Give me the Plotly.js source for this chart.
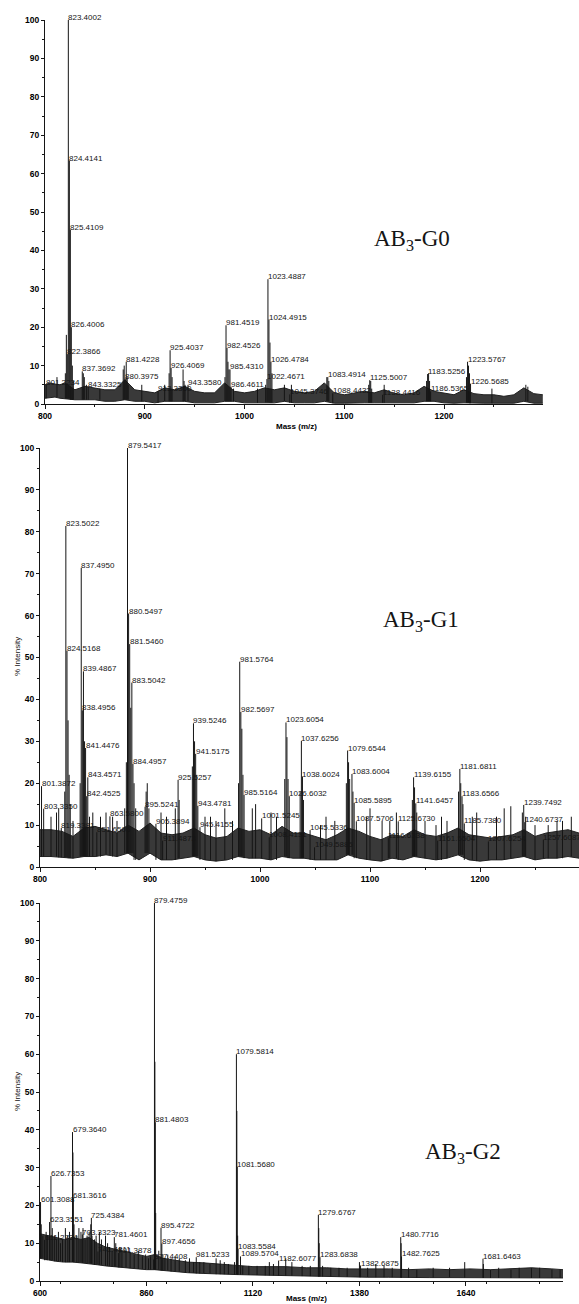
<!DOCTYPE html>
<html><head><meta charset="utf-8">
<script src="https://cdn.plot.ly/plotly-3.0.1.min.js"></script>
<style>html,body{margin:0;padding:0;background:#fff;} #chart{width:579px;height:1304px;}</style>
</head><body><div id="chart"></div>
<script>
// ---------- Panel 1 : AB3-G0 ----------
const G0_PEAK_MZ  = [823.4002, 824.4141, 825.4109, 826.4006, 822.3866, 801.2234, 837.3692, 843.3325, 881.4228, 880.3975, 913.3360, 925.4037, 926.4069, 943.3580, 981.4519, 982.4526, 985.4310, 986.4611, 1023.4887, 1024.4915, 1026.4784, 1022.4671, 1045.3746, 1083.4914, 1088.4432, 1125.5007, 1138.4416, 1183.5256, 1186.5365, 1223.5767, 1226.5685];
const G0_PEAK_INT = [100, 63.4, 45.4, 20, 13, 5, 8.5, 4.5, 11, 6.6, 3.3, 14, 9.4, 5, 20.5, 14.6, 9, 4.5, 32.5, 22, 11, 6.5, 2.5, 7, 2.8, 6.2, 2.4, 7.8, 3.3, 11, 5.3];
const G0_MINOR_MZ  = [812, 820.4, 821.4, 827.4, 828.4, 838.4, 839.4, 841.5, 855, 878.4, 879.4, 882.4, 883.4, 897, 920, 924.4, 927.4, 938.4, 939.4, 940.4, 980.4, 983.4, 984.4, 989, 1013, 1021.2, 1025.5, 1027.5, 1040, 1047, 1082.5, 1084.5, 1124.5, 1126.5, 1127.5, 1140, 1182.5, 1184.5, 1185.5, 1222.5, 1224.5, 1225.5, 1248, 1282, 1284];
const G0_MINOR_INT = [7, 8, 18, 10, 6, 8, 7, 5, 4, 9, 10, 7, 5, 5, 5, 8, 7, 9, 6, 5, 7, 11, 9, 4, 4, 5, 16, 8, 5, 5, 7, 6, 5, 6, 4, 5, 6, 8, 6, 7, 10, 8, 4, 5, 4.5];
const G0_NOISE_MZ = [800, 805, 810, 815, 820, 830, 840, 850, 860, 870, 880, 890, 900, 910, 920, 930, 940, 950, 960, 970, 980, 990, 1000, 1010, 1020, 1030, 1040, 1050, 1060, 1070, 1080, 1090, 1100, 1110, 1120, 1130, 1140, 1150, 1160, 1170, 1180, 1190, 1200, 1210, 1220, 1230, 1240, 1250, 1260, 1270, 1280, 1290, 1299];
const G0_NOISE_LO = [1.5, 1.6, 1.8, 1.5, 1.4, 1.1, 1.1, 1.1, 0.7, 0.7, 1.1, 0.7, 0.7, 0.3, 0.7, 0.7, 0.7, 0.3, 0.3, 0.3, 0.7, 0.7, 0.3, 0.3, 0.4, 0.3, 0.7, 0.3, 0.3, 0.3, 0.7, 0.2, 0.2, 0.3, 0.3, 0.3, 0.3, 0.4, 0.3, 0.3, 0.7, 0.7, 0.3, 0.2, 0.3, 0.2, 0.2, 0.2, 0.2, 0.2, 0.7, 0.2, 0.2];
const G0_NOISE_HI = [5, 5.5, 5.2, 5, 5.5, 3.7, 4.6, 4.2, 3.7, 3.7, 6.3, 3.7, 3.3, 2.9, 4.2, 3.7, 4.6, 3.3, 2.9, 2.9, 5.5, 3.3, 2.9, 3.3, 4.2, 3.7, 4.2, 3.3, 2.9, 3.3, 5.5, 2.9, 2.4, 2.9, 3.3, 2.9, 3.7, 2.8, 2.4, 2.9, 4.6, 3.3, 2.9, 2.4, 3.7, 2.7, 2.4, 2.4, 2.0, 2.4, 4.2, 2.7, 2.4];

// ---------- Panel 2 : AB3-G1 ----------
const G1_PEAK_MZ  = [879.5417, 823.5022, 837.4950, 880.5497, 881.5460, 824.5168, 839.4867, 883.5042, 981.5764, 838.4956, 982.5697, 939.5246, 1023.6054, 1037.6256, 1079.6544, 841.4476, 941.5175, 884.4957, 1083.6004, 1139.6155, 1181.6811, 1038.6024, 843.4571, 925.5257, 801.3872, 842.4525, 1026.6032, 1183.6566, 1085.5895, 1141.6457, 1239.7492, 985.5164, 943.4781, 895.5241, 803.3350, 863.5800, 1001.5245, 1087.5706, 1125.6730, 1185.7380, 1240.6737, 905.3894, 945.4155, 1045.5336, 819.3381, 851.6505, 1116.6338, 1161.5504, 1207.6254, 1257.6087, 1008.4131, 1049.5885, 911.4873];
const G1_PEAK_INT = [100, 81.4, 71.4, 60.5, 53.2, 51.6, 46.7, 44, 49, 37.4, 37, 34.3, 34.5, 30.1, 27.8, 28.4, 27, 24.6, 22.2, 21.4, 23.4, 21.6, 21.4, 20.8, 19.3, 16.9, 16.9, 16.9, 15.3, 15.2, 14.8, 17.2, 14.6, 14.4, 13.9, 12.1, 11.6, 10.9, 10.9, 10.4, 10.7, 10.3, 9.5, 8.8, 9.3, 8.3, 6.9, 6.3, 6.1, 6.5, 7.1, 4.7, 6.3];
const G1_MINOR_MZ  = [810, 815, 817, 822.5, 825.5, 826.5, 827.5, 830, 836.5, 840.5, 845, 848, 855, 860, 866, 870, 877, 878.5, 882.5, 885.5, 887, 896.5, 897.5, 899, 910, 915, 923, 926.5, 938.5, 940.5, 942.5, 950, 955, 960, 968, 975, 980.5, 983.5, 984.5, 993, 996, 1010, 1015, 1022.5, 1024.5, 1025.5, 1036.5, 1039.5, 1055, 1060, 1068, 1078.5, 1080.5, 1081.5, 1084.5, 1097, 1100, 1111, 1118, 1124, 1138.5, 1140.5, 1142.5, 1150, 1160, 1165, 1170, 1180.5, 1182.5, 1184.5, 1193, 1197, 1215, 1222, 1228, 1238.5, 1241.5, 1250, 1262, 1270, 1275, 1283];
const G1_MINOR_INT = [12, 13, 14, 18, 35, 22, 15, 11, 20, 30, 12, 13, 12, 13, 12, 11, 14, 25, 38, 20, 14, 18, 20, 14, 13, 12, 14, 16, 24, 30, 22, 12, 12, 11, 14, 11, 20, 33, 22, 14, 15, 13, 12, 21, 31, 21, 18, 16, 10, 12, 11, 20, 25, 21, 18, 12, 14, 11, 11, 13, 16, 19, 13, 11, 10, 12, 11, 18, 20, 15, 12, 13, 12, 14, 14.5, 13, 12, 10, 10, 11, 11, 12];
const G1_NOISE_MZ = [800, 810, 820, 830, 840, 850, 860, 870, 880, 890, 900, 910, 920, 930, 940, 950, 960, 970, 980, 990, 1000, 1010, 1020, 1030, 1040, 1050, 1060, 1070, 1080, 1090, 1100, 1110, 1120, 1130, 1140, 1150, 1160, 1170, 1180, 1190, 1200, 1210, 1220, 1230, 1240, 1250, 1260, 1270, 1280, 1290];
const G1_NOISE_LO = [2.5, 2.5, 2.3, 2.1, 2.5, 2.5, 2.9, 2.5, 3.3, 1.7, 3.3, 1.7, 1.7, 2.1, 2.5, 1.7, 1.4, 1.7, 2.5, 2.1, 2.1, 1.7, 2.5, 2.1, 2.1, 1.7, 1.7, 1.7, 2.9, 2.1, 1.7, 1.4, 2.1, 1.7, 2.5, 2.1, 1.7, 2.1, 2.9, 1.7, 1.4, 1.7, 1.7, 2.1, 2.5, 1.7, 2.1, 2.1, 2.5, 2.1];
const G1_NOISE_HI = [8.9, 8.9, 8.5, 7.3, 9.3, 9.7, 8.9, 8.1, 10, 8.5, 10.5, 8.1, 7.7, 8.1, 9.3, 7.7, 6.9, 7.3, 9.3, 8.5, 8.9, 7.7, 9.7, 8.1, 8.1, 7.3, 6.5, 7.7, 9.3, 8.5, 7.3, 6.5, 7.7, 7.3, 8.9, 7.7, 7.3, 8.1, 9.3, 7.7, 7.3, 6.9, 7.3, 7.7, 8.9, 7.3, 8.1, 8.5, 8.9, 8.1];

// ---------- Panel 3 : AB3-G2 ----------
const G2_PEAK_MZ  = [879.4759, 1079.5814, 881.4803, 679.3640, 1081.5680, 626.7353, 681.3616, 601.3088, 725.4384, 623.3551, 895.4722, 703.3323, 781.4601, 611.2734, 897.4656, 1083.5584, 741.4811, 791.3878, 981.5233, 877.4408, 1089.5704, 1182.6077, 1279.6767, 1283.6838, 1382.6875, 1480.7716, 1482.7625, 1681.6463];
const G2_PEAK_INT = [100, 60, 42, 39.4, 30.2, 27.8, 21.9, 20.9, 16.7, 15.6, 14.1, 12.3, 11.6, 10.9, 9.9, 8.5, 7.8, 7.4, 6.3, 5.7, 6.5, 5.4, 17.5, 6.3, 4.1, 11.6, 6.5, 5.9];
const G2_MINOR_MZ  = [603, 607, 615, 618, 630, 635, 640, 645, 650, 655, 662, 668, 672, 680.4, 683, 690, 695, 700, 705, 710, 715, 720, 724, 727, 733, 737, 745, 750, 760, 765, 770, 776, 785, 795, 800, 810, 820, 830, 840, 850, 858, 865, 870, 880.5, 882.5, 890, 900, 905, 912, 920, 930, 940, 955, 965, 975, 990, 1000, 1015, 1030, 1040, 1050, 1060, 1075, 1080.6, 1082.6, 1095, 1110, 1130, 1150, 1160, 1170, 1200, 1215, 1240, 1260, 1280.7, 1281.7, 1290, 1310, 1330, 1350, 1380, 1400, 1420, 1440, 1460, 1481.8, 1500, 1520, 1560, 1600, 1637, 1682.6, 1700, 1720, 1750, 1770, 1800, 1820, 1850, 1870];
const G2_MINOR_INT = [15, 12, 13, 12, 14, 12, 11, 13, 10, 11, 14, 12, 13, 34, 15, 12, 14, 13, 14, 11, 12, 13, 15, 12, 11, 12, 13, 11, 12, 10, 9, 8, 10, 9, 8, 8, 7.5, 7, 8, 6.5, 7, 6, 6.5, 58, 18, 8, 7, 6, 7, 6, 6.5, 6, 5.5, 6, 5, 5, 5, 4.5, 6, 5.5, 5, 4.5, 5, 45, 12, 4, 4, 4, 4, 5, 4.5, 6, 5, 4, 4, 14, 10, 4, 3.5, 3.5, 3.5, 5, 3.5, 4.5, 4, 3.5, 10, 3.5, 3, 3.5, 3.5, 5, 4.5, 3, 3.5, 3, 3.5, 3.5, 3.5, 3, 3];
const G2_NOISE_MZ = [600, 620, 640, 660, 680, 700, 720, 740, 760, 780, 800, 820, 840, 860, 880, 900, 930, 960, 1000, 1040, 1080, 1120, 1160, 1200, 1250, 1300, 1350, 1400, 1450, 1500, 1550, 1600, 1650, 1700, 1750, 1800, 1850, 1877];
const G2_NOISE_LO = [6, 5.5, 5.2, 5, 5, 4.8, 4.6, 4.3, 4, 3.8, 3.6, 3.4, 3.2, 3, 3, 2.8, 2.5, 2.2, 2, 1.8, 1.7, 1.6, 1.5, 1.4, 1.3, 1.2, 1.1, 1, 1, 0.9, 0.9, 0.9, 0.9, 0.8, 0.8, 0.8, 0.8, 0.8];
const G2_NOISE_HI = [12.5, 12, 11.5, 11, 11.5, 11, 11.5, 10, 9, 8.5, 7.8, 7.3, 7, 6.5, 7, 6, 5.5, 5, 4.8, 4.5, 4.2, 3.8, 3.8, 3.8, 3.5, 3.5, 3.2, 3.3, 3.2, 3, 3.2, 3, 3.2, 3, 3.3, 3.5, 3.2, 3];

// ---------- rendering ----------
const W = 579, H = 1304;
const px = v => v / W;
const py = v => 1 - v / H;
const FONT = 'Liberation Sans, Arial, sans-serif';
const INK = '#151515';

function nearestLo(nMz, nLo, m) {
  let best = 0, d = Infinity;
  for (let i = 0; i < nMz.length; i++) { const dd = Math.abs(nMz[i] - m); if (dd < d) { d = dd; best = i; } }
  return nLo[best];
}
function panelTraces(xa, ya, nMz, nLo, nHi, pMz, pInt, mMz, mInt) {
  const sx = [], sy = [];
  const add = (ms, vs) => ms.forEach((m, i) => { sx.push(m, m, null); sy.push(nearestLo(nMz, nLo, m), vs[i], null); });
  add(mMz, mInt); add(pMz, pInt);
  return [
    {type: 'scatter', mode: 'lines', x: nMz, y: nLo, xaxis: xa, yaxis: ya, line: {color: '#222', width: 1}, hoverinfo: 'skip', showlegend: false},
    {type: 'scatter', mode: 'lines', x: nMz, y: nHi, xaxis: xa, yaxis: ya, fill: 'tonexty', fillcolor: '#393939', line: {color: '#222', width: 1}, hoverinfo: 'skip', showlegend: false},
    {type: 'scatter', mode: 'lines', x: sx, y: sy, xaxis: xa, yaxis: ya, line: {color: INK, width: 1}, hoverinfo: 'skip', showlegend: false}
  ];
}
function labels(xr, yr, pMz, pInt) {
  return pMz.map((m, i) => ({
    x: m, y: pInt[i], xref: xr, yref: yr, text: m.toFixed(4), showarrow: false,
    xanchor: 'left', yanchor: 'bottom', xshift: -1, yshift: -3, borderpad: 0,
    font: {family: FONT, size: 8, color: INK}
  }));
}
const baseAxis = {
  showline: true, linecolor: INK, linewidth: 1, ticks: 'outside', ticklen: 4, tickwidth: 1, tickcolor: INK,
  showgrid: false, zeroline: false, tickmode: 'linear', fixedrange: true,
  tickfont: {family: FONT, size: 8.5, color: '#000', weight: 700}
};
const xAx = (domain, range, tick0, dtick, anchor) => Object.assign({}, baseAxis, {
  domain, range, tick0, dtick, anchor, minor: {ticks: 'outside', ticklen: 2, tickcolor: INK, dtick: dtick / 2, showgrid: false}
});
const yAx = (domain, anchor) => Object.assign({}, baseAxis, {
  domain, range: [0, 100], tick0: 0, dtick: 10, anchor, ticklen: 3,
  minor: {ticks: 'outside', ticklen: 2, tickcolor: INK, dtick: 5, showgrid: false}
});

const data = [].concat(
  panelTraces('x', 'y', G0_NOISE_MZ, G0_NOISE_LO, G0_NOISE_HI, G0_PEAK_MZ, G0_PEAK_INT, G0_MINOR_MZ, G0_MINOR_INT),
  panelTraces('x2', 'y2', G1_NOISE_MZ, G1_NOISE_LO, G1_NOISE_HI, G1_PEAK_MZ, G1_PEAK_INT, G1_MINOR_MZ, G1_MINOR_INT),
  panelTraces('x3', 'y3', G2_NOISE_MZ, G2_NOISE_LO, G2_NOISE_HI, G2_PEAK_MZ, G2_PEAK_INT, G2_MINOR_MZ, G2_MINOR_INT)
);

const paperText = (x, y, text, font, extra) => Object.assign({
  x: px(x), y: py(y), xref: 'paper', yref: 'paper', text, showarrow: false,
  xanchor: 'center', yanchor: 'middle', font
}, extra || {});
const titleFont = {family: FONT, size: 8, color: '#000', weight: 700};
const yTitleFont = {family: FONT, size: 8, color: INK};
const nameFont = {family: 'Liberation Serif, Times New Roman, serif', size: 23, color: INK};

const annotations = [].concat(
  labels('x', 'y', G0_PEAK_MZ, G0_PEAK_INT),
  labels('x2', 'y2', G1_PEAK_MZ, G1_PEAK_INT),
  labels('x3', 'y3', G2_PEAK_MZ, G2_PEAK_INT),
  [
    paperText(412, 240, 'AB<sub>3</sub>-G0', nameFont),
    paperText(421, 621, 'AB<sub>3</sub>-G1', nameFont),
    paperText(463, 1153, 'AB<sub>3</sub>-G2', nameFont),
    paperText(296, 427, 'Mass (m/z)', titleFont),
    paperText(306, 1298, 'Mass (m/z)', titleFont),
    paperText(17, 657, '% Intensity', yTitleFont, {textangle: -90}),
    paperText(17, 1092, '% Intensity', yTitleFont, {textangle: -90})
  ]
);

const layout = {
  width: W, height: H, margin: {l: 0, r: 0, t: 0, b: 0},
  paper_bgcolor: '#ffffff', plot_bgcolor: '#ffffff', showlegend: false,
  xaxis:  xAx([px(45), px(543)], [800, 1299.2], 800, 100, 'y'),
  yaxis:  yAx([py(404), py(20)], 'x'),
  xaxis2: xAx([px(40), 1], [800, 1290], 800, 100, 'y2'),
  yaxis2: yAx([py(867), py(448)], 'x2'),
  xaxis3: xAx([px(40), px(563)], [600, 1877], 600, 260, 'y3'),
  yaxis3: yAx([py(1281), py(903)], 'x3'),
  annotations
};
Plotly.newPlot('chart', data, layout, {staticPlot: true, displayModeBar: false});
</script></body></html>
